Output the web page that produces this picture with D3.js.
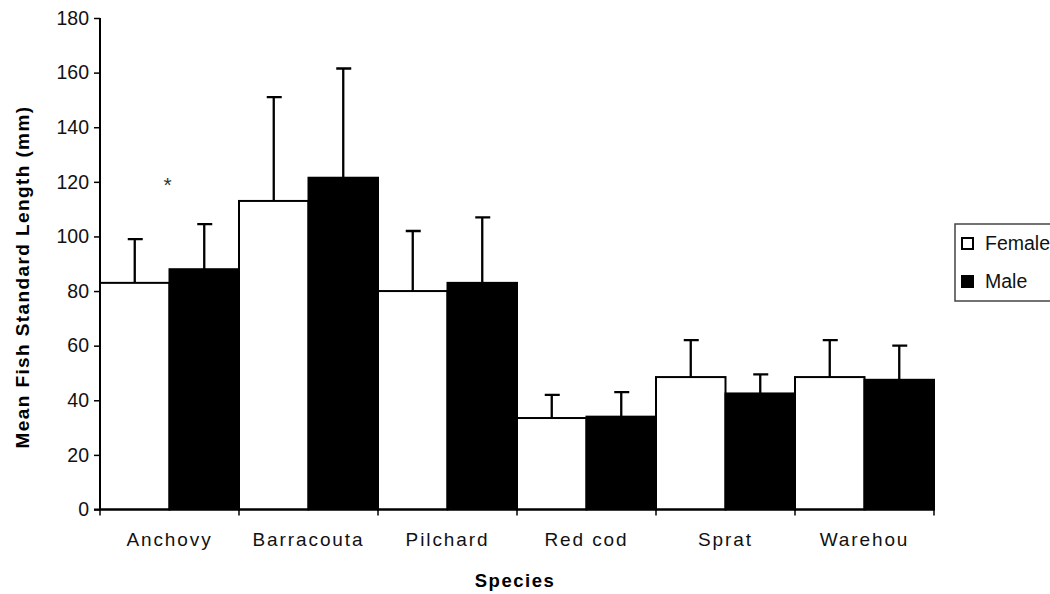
<!DOCTYPE html>
<html>
<head>
<meta charset="utf-8">
<script src="https://cdn.jsdelivr.net/npm/d3@7"></script>
<style>
  body { margin: 0; background: #fff; }
  svg { display: block; font-family: "Liberation Sans", Arial, sans-serif; }
</style>
</head>
<body>
<div id="chart"></div>
<script>
// data
const species = ["Anchovy", "Barracouta", "Pilchard", "Red cod", "Sprat", "Warehou"];
const sexes = ["Female", "Male"];
const femaleMean = [83, 113, 80, 33.5, 48.5, 48.5];
const femaleErr  = [16, 38, 22, 8.5, 13.5, 13.5];
const maleMean   = [88, 121.5, 83, 34, 42.5, 47.5];
const maleErr    = [16.5, 40, 24, 9, 7, 12.5];
const yTicks = [0, 20, 40, 60, 80, 100, 120, 140, 160, 180];

class BarChart {

  constructor(_config) {
    this.config = {
      parentElement: _config.parentElement,
      containerWidth: 1050,
      containerHeight: 594,
      margin: {top: 18, right: 116, bottom: 84.5, left: 100}
    }
    this.initVis();
  }

  initVis() {
    let vis = this;
    vis.width = vis.config.containerWidth - vis.config.margin.left - vis.config.margin.right;
    vis.height = vis.config.containerHeight - vis.config.margin.top - vis.config.margin.bottom;

    vis.svg = d3.select(vis.config.parentElement).append('svg')
        .attr('width', vis.config.containerWidth)
        .attr('height', vis.config.containerHeight);

    vis.chart = vis.svg.append('g')
        .attr('transform', `translate(${vis.config.margin.left},${vis.config.margin.top})`);

    vis.xScale = d3.scaleBand().domain(species).range([0, vis.width]).padding(0);
    vis.xSub = d3.scaleBand().domain(sexes).range([0, vis.xScale.bandwidth()]).padding(0);
    vis.yScale = d3.scaleLinear().domain([0, 180]).range([vis.height, 0]);

    vis.rows = species.map((s, i) => ({
      species: s,
      values: [
        {sex: "Female", mean: femaleMean[i], err: femaleErr[i]},
        {sex: "Male", mean: maleMean[i], err: maleErr[i]}
      ]
    }));

    vis.renderVis();
  }

  renderVis() {
    let vis = this;
    const fill = {Female: "#fff", Male: "#000"};

    const groups = vis.chart.selectAll('.group')
      .data(vis.rows)
      .join('g')
        .attr('class', 'group')
        .attr('transform', d => `translate(${vis.xScale(d.species)},0)`);

    // error bars first so the bar outline sits on top of the stem base
    groups.selectAll('.err')
      .data(d => d.values)
      .join('path')
        .attr('class', 'err')
        .attr('fill', 'none')
        .attr('stroke', '#000')
        .attr('stroke-width', 2.3)
        .attr('d', d => {
          const cx = vis.xSub(d.sex) + vis.xSub.bandwidth() / 2;
          const y0 = vis.yScale(d.mean);
          const y1 = vis.yScale(d.mean + d.err);
          return `M${cx},${y0}V${y1}M${cx - 7},${y1}H${cx + 8}`;
        });

    groups.selectAll('.bar')
      .data(d => d.values)
      .join('rect')
        .attr('class', 'bar')
        .attr('x', d => vis.xSub(d.sex))
        .attr('y', d => vis.yScale(d.mean))
        .attr('width', vis.xSub.bandwidth())
        .attr('height', d => vis.height - vis.yScale(d.mean))
        .attr('fill', d => fill[d.sex])
        .attr('stroke', '#000')
        .attr('stroke-width', 2);

    // y axis
    const yAxis = d3.axisLeft(vis.yScale).tickValues(yTicks).tickSize(6).tickPadding(5);
    const yG = vis.chart.append('g').call(yAxis);
    yG.select('.domain').attr('d', `M0,0V${vis.height}`).attr('stroke-width', 2);
    yG.selectAll('.tick line').attr('stroke-width', 1.5);
    yG.selectAll('.tick text')
        .style('font-size', '19.5px')
        .attr('fill', '#111');

    // x axis with ticks on the category boundaries
    const xG = vis.chart.append('g').attr('transform', `translate(0,${vis.height})`);
    xG.append('line')
        .attr('x1', -6).attr('x2', vis.width)
        .attr('stroke', '#000').attr('stroke-width', 2);
    const bounds = species.map(s => vis.xScale(s)).concat([vis.width]);
    xG.selectAll('.xtick')
      .data(bounds)
      .join('line')
        .attr('class', 'xtick')
        .attr('x1', d => d).attr('x2', d => d)
        .attr('y1', 0).attr('y2', 6)
        .attr('stroke', '#000').attr('stroke-width', 1.5);
    xG.selectAll('.xlabel')
      .data(species)
      .join('text')
        .attr('class', 'xlabel')
        .attr('x', d => vis.xScale(d) + vis.xScale.bandwidth() / 2)
        .attr('y', 36.5)
        .attr('text-anchor', 'middle')
        .style('font-size', '19px')
        .style('letter-spacing', '1.9px')
        .attr('fill', '#111')
        .text(d => d);

    // axis titles
    vis.svg.append('text')
        .attr('x', 515).attr('y', 587)
        .attr('text-anchor', 'middle')
        .style('font-size', '18.5px')
        .style('font-weight', 'bold')
        .style('letter-spacing', '1.5px')
        .text('Species');

    vis.svg.append('text')
        .attr('transform', 'translate(29,277) rotate(-90)')
        .attr('text-anchor', 'middle')
        .style('font-size', '19px')
        .style('font-weight', 'bold')
        .style('letter-spacing', '1.4px')
        .text('Mean Fish Standard Length (mm)');

    // significance marker above Anchovy
    vis.chart.append('text')
        .attr('x', vis.xScale('Anchovy') + vis.xScale.bandwidth() / 2 - 2)
        .attr('y', vis.yScale(120) + 10)
        .attr('text-anchor', 'middle')
        .style('font-size', '21px')
        .attr('fill', '#333')
        .text('*');

    // legend, cut by the right edge as in the original
    const legend = vis.svg.append('g').attr('transform', 'translate(955,224)');
    legend.append('rect')
        .attr('width', 120).attr('height', 77)
        .attr('fill', '#fff').attr('stroke', '#444').attr('stroke-width', 1.5);
    const items = legend.selectAll('.item')
      .data(sexes)
      .join('g')
        .attr('class', 'item')
        .attr('transform', (d, i) => `translate(7,${14 + i * 38})`);
    items.append('rect')
        .attr('width', 11).attr('height', 11)
        .attr('fill', d => fill[d])
        .attr('stroke', '#000').attr('stroke-width', 2);
    items.append('text')
        .attr('x', 23).attr('y', 11.5)
        .style('font-size', '19.5px')
        .attr('fill', '#111')
        .text(d => d);
  }
}

new BarChart({parentElement: '#chart'});
</script>
</body>
</html>
